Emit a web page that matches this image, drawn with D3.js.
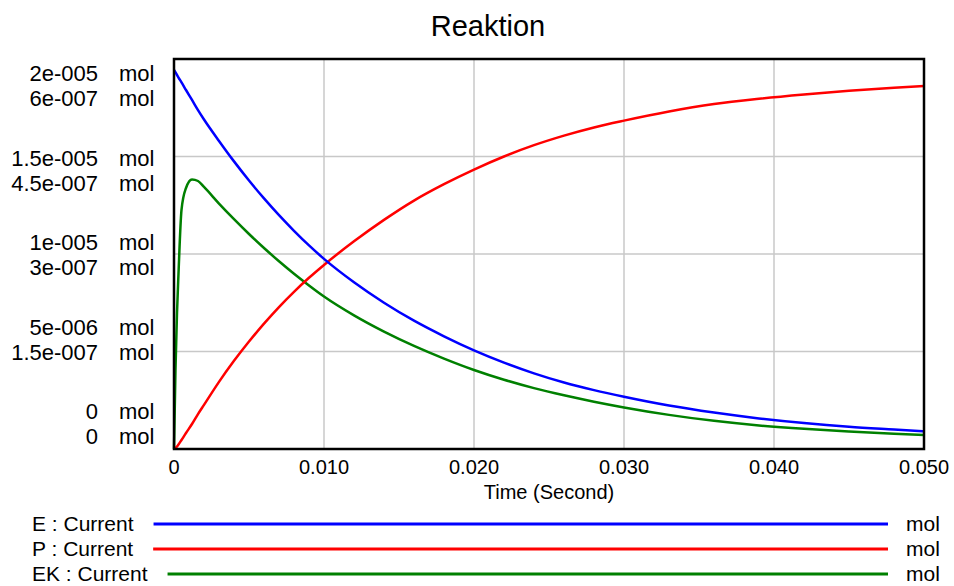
<!DOCTYPE html>
<html>
<head>
<meta charset="utf-8">
<script src="https://cdn.jsdelivr.net/npm/d3@7"></script>
<style>
  body { margin: 0; background: #fff; }
  text { font-family: Arial, "Liberation Sans", sans-serif; fill: #000; }
</style>
</head>
<body>
<div id="chart"></div>
<script>
// time in seconds
const time = [0, 0.0001, 0.0002, 0.0003, 0.0005, 0.0008, 0.0012, 0.0016, 0.002, 0.003, 0.004,
  0.005, 0.006, 0.007, 0.008, 0.009, 0.010, 0.012, 0.014, 0.016, 0.018, 0.020, 0.022, 0.024,
  0.026, 0.028, 0.030, 0.033, 0.036, 0.039, 0.042, 0.045, 0.048, 0.050];

// mol
const E = [19.44e-6, 19.31e-6, 19.18e-6, 19.05e-6, 18.80e-6, 18.41e-6, 17.90e-6, 17.38e-6, 16.90e-6,
  15.80e-6, 14.75e-6, 13.77e-6, 12.85e-6, 11.99e-6, 11.19e-6, 10.44e-6, 9.75e-6, 8.55e-6, 7.50e-6,
  6.58e-6, 5.78e-6, 5.06e-6, 4.43e-6, 3.88e-6, 3.41e-6, 3.02e-6, 2.68e-6, 2.23e-6, 1.87e-6,
  1.57e-6, 1.33e-6, 1.14e-6, 1.00e-6, 0.91e-6];
const P = [0, 0.05e-6, 0.13e-6, 0.23e-6, 0.46e-6, 0.82e-6, 1.28e-6, 1.79e-6, 2.26e-6, 3.44e-6,
  4.52e-6, 5.51e-6, 6.43e-6, 7.28e-6, 8.06e-6, 8.78e-6, 9.44e-6, 10.65e-6, 11.75e-6, 12.74e-6,
  13.58e-6, 14.33e-6, 15.00e-6, 15.58e-6, 16.07e-6, 16.49e-6, 16.84e-6, 17.31e-6, 17.69e-6,
  17.96e-6, 18.18e-6, 18.37e-6, 18.53e-6, 18.62e-6];
const EK = [0, 12.31e-8, 20.92e-8, 27.0e-8, 36.77e-8, 40.15e-8, 41.46e-8, 41.23e-8, 40.31e-8,
  37.76e-8, 35.36e-8, 33.08e-8, 30.92e-8, 28.88e-8, 26.96e-8, 25.16e-8, 23.46e-8, 20.56e-8,
  18.06e-8, 15.86e-8, 13.91e-8, 12.16e-8, 10.66e-8, 9.36e-8, 8.26e-8, 7.28e-8, 6.40e-8,
  5.25e-8, 4.33e-8, 3.62e-8, 3.10e-8, 2.70e-8, 2.36e-8, 2.15e-8];

const xTicks = [0, 0.01, 0.02, 0.03, 0.04, 0.05];
const xTickLabels = ["0", "0.010", "0.020", "0.030", "0.040", "0.050"];
const yTicks = [0, 5e-6, 1e-5, 1.5e-5, 2e-5];
const yTickLabels = ["0", "5e-006", "1e-005", "1.5e-005", "2e-005"];
const ekTicks = [0, 1.5e-7, 3e-7, 4.5e-7, 6e-7];
const ekTickLabels = ["0", "1.5e-007", "3e-007", "4.5e-007", "6e-007"];

const seriesNames = ["E : Current", "P : Current", "EK : Current"];
const seriesColors = ["#0000ff", "#ff0000", "#008000"];

const width = 954, height = 586;
const margin = { top: 59, right: 30, bottom: 137, left: 174 };
const innerW = width - margin.left - margin.right;
const innerH = height - margin.top - margin.bottom;

const svg = d3.select("#chart").append("svg")
  .attr("width", width)
  .attr("height", height);

const x = d3.scaleLinear().domain([0, 0.05]).range([margin.left, margin.left + innerW]);
const y = d3.scaleLinear().domain([0, 2e-5]).range([margin.top + innerH, margin.top]);
const yEK = d3.scaleLinear().domain([0, 6e-7]).range([margin.top + innerH, margin.top]);

// title
svg.append("text")
  .attr("x", 488).attr("y", 36)
  .attr("text-anchor", "middle")
  .style("font-size", "29px")
  .text("Reaktion");

// grid
const grid = svg.append("g").attr("stroke", "#c8c8c8").attr("stroke-width", 1.5);
grid.selectAll("line.v").data(xTicks.slice(1, -1)).enter().append("line")
  .attr("x1", d => x(d)).attr("x2", d => x(d))
  .attr("y1", margin.top).attr("y2", margin.top + innerH);
grid.selectAll("line.h").data(yTicks.slice(1, -1)).enter().append("line")
  .attr("x1", margin.left).attr("x2", margin.left + innerW)
  .attr("y1", d => y(d)).attr("y2", d => y(d));

// lines
const lineE = d3.line().curve(d3.curveMonotoneX).x((d, i) => x(time[i])).y(d => y(d));
const lineEK = d3.line().curve(d3.curveMonotoneX).x((d, i) => x(time[i])).y(d => yEK(d));
const plot = svg.append("g").attr("fill", "none").attr("stroke-width", 2.5)
  .attr("stroke-linejoin", "round");
plot.append("path").datum(EK).attr("d", lineEK).attr("stroke", seriesColors[2]);
plot.append("path").datum(P).attr("d", lineE).attr("stroke", seriesColors[1]);
plot.append("path").datum(E).attr("d", lineE).attr("stroke", seriesColors[0]);

// frame
svg.append("rect")
  .attr("x", margin.left).attr("y", margin.top)
  .attr("width", innerW).attr("height", innerH)
  .attr("fill", "none").attr("stroke", "#000").attr("stroke-width", 2.5);

// x axis labels
svg.selectAll("text.xt").data(xTicks).enter().append("text")
  .attr("x", d => x(d)).attr("y", 474)
  .attr("text-anchor", "middle")
  .style("font-size", "20px")
  .text((d, i) => xTickLabels[i]);
svg.append("text")
  .attr("x", margin.left + innerW / 2).attr("y", 499)
  .attr("text-anchor", "middle")
  .style("font-size", "20px")
  .text("Time (Second)");

// y axis labels: pairs of (E/P scale, EK scale)
const labelRow = d3.scaleLinear().domain([0, 4]).range([419, 81]);
const yl = svg.append("g").style("font-size", "22px");
yTicks.forEach((t, i) => {
  const by = labelRow(i);
  yl.append("text").attr("x", 98).attr("y", by).attr("text-anchor", "end").text(yTickLabels[i]);
  yl.append("text").attr("x", 119).attr("y", by).text("mol");
  yl.append("text").attr("x", 98).attr("y", by + 25).attr("text-anchor", "end").text(ekTickLabels[i]);
  yl.append("text").attr("x", 119).attr("y", by + 25).text("mol");
});

// legend
const legendY = [524, 549, 574];
const lg = svg.append("g").style("font-size", "21px");
seriesNames.forEach((name, i) => {
  const t = lg.append("text").attr("x", 32).attr("y", legendY[i] + 7).text(name);
  const tw = t.node().getComputedTextLength();
  lg.append("line")
    .attr("x1", 32 + tw + 20).attr("x2", 888)
    .attr("y1", legendY[i]).attr("y2", legendY[i])
    .attr("stroke", seriesColors[i]).attr("stroke-width", 3);
  lg.append("text").attr("x", 906).attr("y", legendY[i] + 7).text("mol");
});
</script>
</body>
</html>
